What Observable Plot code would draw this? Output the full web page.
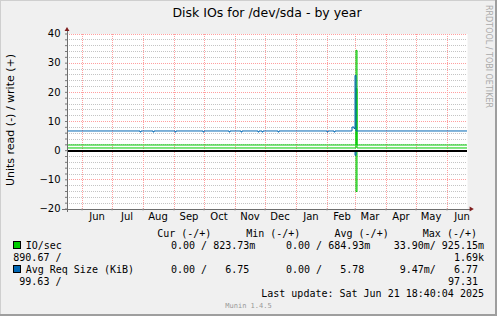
<!DOCTYPE html>
<html>
<head>
<meta charset="utf-8">
<script src="https://cdn.jsdelivr.net/npm/d3@7"></script>
<script src="https://cdn.jsdelivr.net/npm/@observablehq/plot@0.6"></script>
<style>
  html, body { margin: 0; padding: 0; background: #f0f0f0; }
  #wrap { position: relative; width: 497px; height: 316px; background: #f0f0f0; overflow: hidden; }
  #wrap svg { position: absolute; left: 0; top: 0; }
</style>
</head>
<body>
<div id="wrap"></div>
<script>
// ---------- data (daily breakpoints) ----------
const dates = [
  "2024-05-17","2024-07-29","2024-07-30","2024-08-11","2024-08-12","2024-09-02","2024-09-03",
  "2024-09-30","2024-10-01","2024-10-26","2024-10-27","2024-11-07","2024-11-08","2024-11-24",
  "2024-11-25","2024-11-28","2024-11-29","2024-12-14","2024-12-15","2025-02-01","2025-02-02",
  "2025-02-08","2025-02-09","2025-02-26","2025-02-28","2025-03-01","2025-03-02","2025-03-03",
  "2025-06-22"
];
// IO/sec (green): upper line, lower line, read side (negative)
const ioUpper = [1.94,1.94,1.94,1.94,1.94,1.94,1.94,1.94,1.94,1.94,1.94,1.94,1.94,1.94,1.94,1.94,1.94,1.94,1.94,1.94,1.94,1.94,1.94,1.94,1.94,1.94,34.4,1.94,1.94];
const ioLower = [0.92,0.92,0.92,0.92,0.92,0.92,0.92,0.92,0.92,0.92,0.92,0.92,0.92,0.92,0.92,0.92,0.92,0.92,0.92,0.92,0.92,0.92,0.92,0.92,0.92,0.92,21.3,0.92,0.92];
const ioRead  = [0,0,0,0,0,0,0,0,0,0,0,0,0,0,0,0,0,0,0,0,0,0,0,0,0,0,-14.0,0,0];
// Avg Req Size (KiB) (blue): write (+) and read (-)
const reqWrite = [6.75,6.4,6.75,6.4,6.75,6.4,6.75,6.4,6.75,6.4,6.75,6.4,6.75,6.4,6.75,6.4,6.75,6.4,6.75,6.4,6.75,6.4,6.75,8.1,7.6,25.8,6.75,6.75,6.75];
const reqRead  = [0,0,0,0,0,0,0,0,0,0,0,0,0,0,0,0,0,0,0,0,0,0,0,-0.3,0,-1.6,0,0,0];

const yMajor = [-20, -10, 0, 10, 20, 30, 40];
const monthLabels = ["Jun","Jul","Aug","Sep","Oct","Nov","Dec","Jan","Feb","Mar","Apr","May","Jun"];
const xStart = new Date("2024-05-17T12:00Z");
const xEnd = new Date("2025-06-21T12:00Z");

const GREEN = "#00cc00", BLUE = "#0066b3";

const table = dates.map((d, i) => ({
  date: new Date(d + "T00:00Z"),
  ioUpper: ioUpper[i], ioLower: ioLower[i], ioRead: ioRead[i],
  reqWrite: reqWrite[i], reqRead: reqRead[i]
}));

const monthStarts = d3.utcMonths(xStart, xEnd);
const monthMids = monthStarts.map(d => d3.utcDay.offset(d, 15));
const yMinor = d3.range(-20, 41, 2);

const lineOpts = {x: "date", curve: "step-after", clip: true, strokeWidth: 1};

const chart = Plot.plot({
  width: 497, height: 316,
  marginLeft: 67, marginRight: 30, marginTop: 33.5, marginBottom: 107.5,
  style: {background: "transparent", fontFamily: "DejaVu Sans", fontSize: "10px", color: "#000", overflow: "visible"},
  x: {type: "utc", domain: [xStart, xEnd], label: null},
  y: {domain: [-20, 40], label: null},
  marks: [
    Plot.frame({fill: "white", stroke: "none"}),
    Plot.gridY(yMinor, {stroke: "#c4c4c4", strokeOpacity: 1, strokeDasharray: "1,1", shapeRendering: "crispEdges"}),
    Plot.gridY(yMajor, {stroke: "#ff9f9f", strokeOpacity: 1, strokeDasharray: "1,1", shapeRendering: "crispEdges"}),
    Plot.gridX(monthStarts, {stroke: "#ff9f9f", strokeOpacity: 1, strokeDasharray: "1,1", shapeRendering: "crispEdges"}),
    Plot.line(table, {...lineOpts, y: "ioLower", stroke: GREEN}),
    Plot.line(table, {...lineOpts, y: "ioRead", stroke: GREEN}),
    Plot.line(table, {...lineOpts, y: "ioUpper", stroke: GREEN}),
    Plot.line(table, {...lineOpts, y: "reqRead", stroke: BLUE}),
    Plot.line(table, {...lineOpts, y: "reqWrite", stroke: BLUE}),
    Plot.ruleY([0], {stroke: "#000", strokeWidth: 2, shapeRendering: "crispEdges"}),
    // axis lines
    Plot.ruleX([xStart], {stroke: "#6e6e6e", dx: -0.5, insetTop: -4, insetBottom: -3, shapeRendering: "crispEdges"}),
    Plot.ruleY([-20], {stroke: "#6e6e6e", insetLeft: -5, insetRight: -3, shapeRendering: "crispEdges"}),
    // ticks
    Plot.axisY(yMinor, {tickSize: 2, fill: "none", stroke: "#777", label: null}),
    Plot.axisY(yMajor, {tickSize: 0, tickPadding: 7, label: null, fill: "#000"}),
    Plot.axisX(monthStarts, {tickSize: 2, fill: "none", stroke: "#999", label: null}),
    Plot.axisX(monthMids, {tickSize: 0, tickPadding: 4, label: null, fill: "#000", tickFormat: (d, i) => monthLabels[i]}),
    // arrows
    Plot.dot([xStart], {x: d => d, y: () => 40, symbol: "triangle", r: 1.8, fill: "#7f1d1d", stroke: null, dx: -0.5, dy: -4.3}),
    Plot.dot([xEnd], {x: d => d, y: () => -20, symbol: "triangle", r: 1.8, fill: "#7f1d1d", stroke: null, rotate: 90, dx: 3.5})
  ]
});

const wrap = document.getElementById("wrap");
wrap.appendChild(chart);

// ---------- texts, legend, frame shading ----------
const titleText = "Disk IOs for /dev/sda - by year";
const yLabelText = "Units read (-) / write (+)";
const watermarkText = "RRDTOOL / TOBI OETIKER";
const versionText = "Munin 1.4.5";
const headers = ["Cur (-/+)", "Min (-/+)", "Avg (-/+)", "Max (-/+)"];
const legendNames = ["IO/sec", "Avg Req Size (KiB)"];
const legendColors = [GREEN, BLUE];
const ioStats = ["0.00 / 823.73m", "0.00 / 684.93m", "33.90m/ 925.15m", "890.67 /", "1.69k"];
const reqStats = ["0.00 /   6.75", "0.00 /   5.78", "9.47m/   6.77", "99.63 /", "97.31"];
const lastUpdate = "Last update: Sat Jun 21 18:40:04 2025";

const svg = d3.select(wrap).append("svg")
  .attr("width", 497).attr("height", 316)
  .style("pointer-events", "none");

// frame shading
svg.append("rect").attr("x", 0).attr("y", 0).attr("width", 497).attr("height", 1).attr("fill", "#cfcfcf");
svg.append("rect").attr("x", 0).attr("y", 0).attr("width", 1).attr("height", 316).attr("fill", "#cfcfcf");
svg.append("rect").attr("x", 0).attr("y", 314).attr("width", 497).attr("height", 2).attr("fill", "#9e9e9e");
svg.append("rect").attr("x", 495).attr("y", 0).attr("width", 2).attr("height", 316).attr("fill", "#9e9e9e");

svg.append("text").attr("x", 267).attr("y", 17).attr("text-anchor", "middle")
  .attr("font-family", "DejaVu Sans").attr("font-size", 12.5).attr("fill", "#000").text(titleText);

svg.append("text").attr("transform", "translate(14,120) rotate(-90)").attr("text-anchor", "middle")
  .attr("font-family", "DejaVu Sans").attr("font-size", 11).attr("fill", "#000").text(yLabelText);

svg.append("text").attr("transform", "translate(486,5) rotate(90)")
  .attr("font-family", "DejaVu Sans").attr("font-size", 8).attr("fill", "#aaaaaa").text(watermarkText);

svg.append("text").attr("x", 248.5).attr("y", 308).attr("text-anchor", "middle")
  .attr("font-family", "DejaVu Sans Mono").attr("font-size", 7).attr("fill", "#999").text(versionText);

const mono = (x, y, s, anchor = "start") =>
  svg.append("text").attr("x", x).attr("y", y).attr("text-anchor", anchor)
    .attr("font-family", "DejaVu Sans Mono").attr("font-size", 10).attr("fill", "#000")
    .attr("xml:space", "preserve").style("white-space", "pre").text(s);

const headerX = [157.2, 246.2, 334.5, 422.8];
headers.forEach((h, i) => mono(headerX[i], 237.3, h));

const rowY = [249.3, 273.3];
const statSets = [ioStats, reqStats];
const rightEnds = [484, 478];
legendNames.forEach((name, r) => {
  const y = rowY[r];
  svg.append("rect").attr("x", 13.5).attr("y", y - 7.8).attr("width", 7).attr("height", 7)
    .attr("fill", legendColors[r]).attr("stroke", "#000").attr("stroke-width", 1);
  mono(25.7, y, name);
  const s = statSets[r];
  mono(171, y, s[0]);
  mono(286, y, s[1]);
  mono(rightEnds[r], y, s[2], "end");
  mono(r === 0 ? 13.3 : 19.3, y + 12, s[3]);
  mono(rightEnds[r], y + 12, s[4], "end");
});
mono(484, 297, lastUpdate, "end");
</script>
</body>
</html>
